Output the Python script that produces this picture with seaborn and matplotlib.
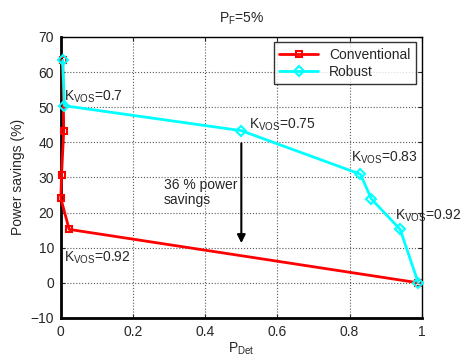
import pandas as pd
import numpy as np
import matplotlib
matplotlib.use("Agg")
import matplotlib.pyplot as plt
import seaborn as sns

sns.set_style("white")
plt.rcParams['font.family'] = ['Liberation Sans', 'DejaVu Sans']
plt.rcParams['mathtext.fontset'] = 'custom'
plt.rcParams['mathtext.rm'] = 'Liberation Sans'
plt.rcParams['mathtext.it'] = 'Liberation Sans'

# data
pdet_conv = [0.005, 0.008, 0.002, 0.0, 0.023, 0.99]
save_conv = [63.3, 43.3, 30.8, 24.0, 15.2, 0.0]
pdet_rob = [0.005, 0.01, 0.5, 0.83, 0.86, 0.94, 0.99]
save_rob = [63.3, 50.4, 43.3, 30.9, 23.9, 15.2, 0.0]

df = pd.concat([
    pd.DataFrame({'PDet': pdet_conv, 'Savings': save_conv, 'Scheme': 'Conventional'}),
    pd.DataFrame({'PDet': pdet_rob, 'Savings': save_rob, 'Scheme': 'Robust'}),
])

fig = plt.figure(figsize=(4.61, 3.58), dpi=100)
ax = fig.add_axes([0.132, 0.112, 0.783, 0.785])

sns.lineplot(data=df[df.Scheme == 'Conventional'], x='PDet', y='Savings', sort=False,
             color='red', marker='s', markersize=5, markerfacecolor='none',
             markeredgecolor='red', markeredgewidth=1.5, linewidth=2,
             label='Conventional', ax=ax, clip_on=False, zorder=3)
sns.lineplot(data=df[df.Scheme == 'Robust'], x='PDet', y='Savings', sort=False,
             color='cyan', marker='D', markersize=5, markerfacecolor='none',
             markeredgecolor='cyan', markeredgewidth=1.5, linewidth=2,
             label='Robust', ax=ax, clip_on=False, zorder=4)

ax.set_xlim(0, 1)
ax.set_ylim(-10, 70)
ax.set_xticks([0, 0.2, 0.4, 0.6, 0.8, 1])
ax.set_xticklabels(['0', '0.2', '0.4', '0.6', '0.8', '1'])
ax.set_yticks(range(-10, 71, 10))
ax.grid(True, linestyle=':', color='0.35', linewidth=0.8)
ax.tick_params(labelsize=10, direction='in', length=3, pad=5,
               left=True, bottom=True, right=True, top=True)
for s in ax.spines.values():
    s.set_color('black')
    s.set_linewidth(1)
    s.set_zorder(2)
ax.spines['left'].set_linewidth(2)
ax.spines['bottom'].set_linewidth(2)

ax.set_xlabel(r'P$_{\mathrm{Det}}$', fontsize=10, labelpad=1)
ax.set_ylabel('Power savings (%)', fontsize=10)
ax.set_title(r'P$_{\mathrm{F}}$=5%', fontsize=10, pad=10)

kw = dict(fontsize=10)
ax.text(0.01, 52, r'K$_{\mathrm{VOS}}$=0.7', **kw)
ax.text(0.52, 44, r'K$_{\mathrm{VOS}}$=0.75', **kw)
ax.text(0.805, 34.5, r'K$_{\mathrm{VOS}}$=0.83', **kw)
ax.text(0.925, 18, r'K$_{\mathrm{VOS}}$=0.92', **kw)
ax.text(0.01, 6, r'K$_{\mathrm{VOS}}$=0.92', **kw)
ax.text(0.285, 22.5, '36 % power\nsavings', fontsize=10, linespacing=1.1)
ax.annotate('', xy=(0.5, 10.5), xytext=(0.5, 40.5),
            arrowprops=dict(arrowstyle='-|>', color='black', lw=1.5, mutation_scale=12))

leg = ax.legend(loc='upper right', fontsize=10, frameon=True, fancybox=False,
                borderaxespad=0.4, handlelength=2.8, labelspacing=0.2)
leg.get_frame().set_edgecolor('black')
leg.get_frame().set_linewidth(1)

fig.savefig('out.png', dpi=100)
